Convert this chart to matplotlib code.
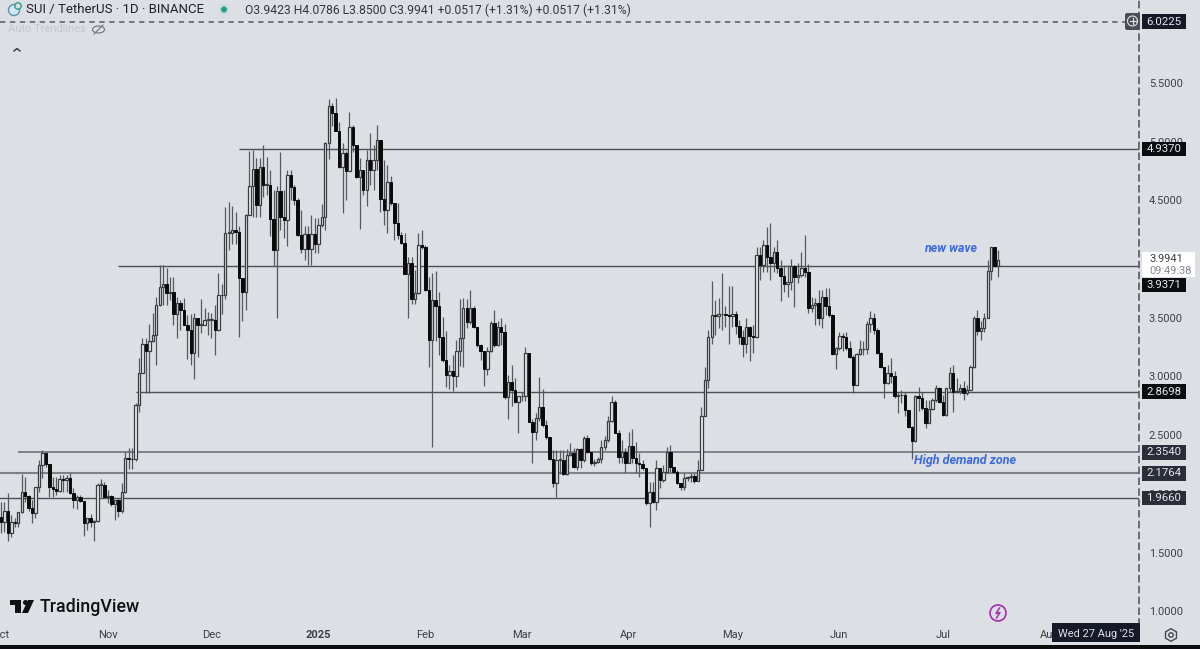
import matplotlib
matplotlib.use('Agg')
import matplotlib.pyplot as plt
import matplotlib.dates as mdates
import matplotlib.patches as mpatches
from matplotlib.transforms import blended_transform_factory
import numpy as np
import pandas as pd

plt.rcParams['font.family'] = ['Roboto', 'DejaVu Sans']

# daily candles, open of each day is the close before it
first_open = 1.80
closes = [
    1.764, 1.857, 1.664, 1.764, 1.755, 1.849, 2.019, 1.982, 1.877, 1.835,
    2.062, 2.246, 2.346, 2.252, 2.062, 2.040, 2.024, 2.124, 2.120, 2.133,
    2.011, 1.948, 1.975, 1.940, 1.755, 1.792, 1.764, 1.772, 2.076, 2.076,
    1.971, 1.982, 1.914, 1.948, 1.857, 2.019, 2.309, 2.300, 2.295, 2.757,
    3.033, 3.274, 3.217, 3.305, 3.353, 3.609, 3.765, 3.785, 3.708, 3.720,
    3.532, 3.630, 3.566, 3.440, 3.400, 3.197, 3.495, 3.440, 3.440, 3.480,
    3.480, 3.483, 3.396, 3.694, 3.690, 4.225, 4.225, 4.250, 4.230, 3.840,
    3.717, 4.375, 4.622, 4.764, 4.460, 4.787, 4.630, 4.630, 4.340, 4.077,
    4.583, 4.360, 4.330, 4.720, 4.610, 4.500, 4.205, 4.086, 4.213, 4.090,
    4.210, 4.125, 4.290, 4.355, 4.990, 5.300, 5.245, 5.090, 4.787, 4.900,
    4.753, 5.128, 4.970, 4.696, 4.760, 4.590, 4.840, 4.760, 4.840, 5.014,
    4.510, 4.420, 4.660, 4.475, 4.310, 4.205, 4.135, 3.873, 3.963, 3.657,
    3.710, 4.120, 4.100, 3.736, 3.311, 3.652, 3.600, 3.334, 3.140, 3.013,
    3.050, 3.000, 3.217, 3.330, 3.580, 3.467, 3.580, 3.424, 3.270, 3.220,
    3.067, 3.220, 3.453, 3.268, 3.420, 3.380, 2.828, 2.956, 2.885, 2.786,
    2.830, 2.830, 3.197, 2.615, 2.530, 2.644, 2.737, 2.587, 2.488, 2.294,
    2.090, 2.290, 2.290, 2.167, 2.330, 2.345, 2.232, 2.380, 2.290, 2.473,
    2.360, 2.260, 2.270, 2.295, 2.400, 2.460, 2.623, 2.786, 2.522, 2.317,
    2.354, 2.266, 2.410, 2.304, 2.266, 2.255, 2.218, 1.920, 2.020, 1.934,
    2.218, 2.120, 2.190, 2.360, 2.232, 2.190, 2.090, 2.057, 2.133, 2.140,
    2.150, 2.112, 2.204, 2.667, 2.970, 3.340, 3.524, 3.515, 3.530, 3.535,
    3.525, 3.516, 3.530, 3.430, 3.340, 3.280, 3.425, 3.345, 3.335, 4.035,
    3.950, 4.120, 4.020, 3.964, 4.060, 3.920, 3.856, 3.788, 3.808, 3.940,
    3.850, 3.862, 3.920, 3.893, 3.580, 3.605, 3.630, 3.500, 3.674, 3.600,
    3.524, 3.190, 3.240, 3.345, 3.340, 3.240, 3.170, 2.927, 3.190, 3.230,
    3.230, 3.450, 3.495, 3.395, 3.203, 3.078, 2.948, 3.026, 3.000, 2.834,
    2.840, 2.840, 2.715, 2.567, 2.453, 2.830, 2.820, 2.730, 2.600, 2.724,
    2.800, 2.900, 2.785, 2.672, 2.900, 3.027, 2.870, 2.880, 2.900, 2.860,
    2.885, 3.077, 3.495, 3.390, 3.410, 3.495, 3.900, 4.106, 3.940, 3.994,
]
highs = [
    1.934, 1.934, 2.011, 1.820, 1.792, 1.849, 2.170, 2.140, 1.991, 1.948,
    2.062, 2.290, 2.375, 2.360, 2.252, 2.147, 2.147, 2.161, 2.161, 2.161,
    2.175, 2.048, 1.991, 1.991, 1.940, 1.792, 1.830, 1.780, 2.090, 2.124,
    2.104, 2.030, 1.991, 1.948, 1.962, 2.090, 2.360, 2.388, 2.388, 2.770,
    3.155, 3.325, 3.325, 3.447, 3.540, 3.680, 3.950, 3.950, 3.920, 3.850,
    3.850, 3.680, 3.650, 3.670, 3.520, 3.530, 3.540, 3.500, 3.660, 3.580,
    3.550, 3.540, 3.610, 3.880, 3.790, 4.446, 4.490, 4.450, 4.400, 4.280,
    3.840, 4.380, 4.920, 4.930, 4.860, 4.860, 4.970, 4.870, 4.760, 4.590,
    4.620, 4.915, 4.590, 4.760, 4.760, 4.630, 4.520, 4.420, 4.280, 4.280,
    4.375, 4.350, 4.350, 4.470, 5.000, 5.360, 5.330, 5.370, 5.170, 4.985,
    4.920, 5.255, 5.140, 4.970, 4.860, 4.760, 4.930, 5.070, 4.970, 5.140,
    5.014, 4.840, 4.800, 4.710, 4.480, 4.480, 4.230, 4.220, 4.020, 4.020,
    3.910, 4.220, 4.250, 4.120, 3.850, 3.880, 3.900, 3.720, 3.510, 3.390,
    3.100, 3.180, 3.310, 3.660, 3.666, 3.660, 3.740, 3.600, 3.420, 3.280,
    3.220, 3.250, 3.470, 3.570, 3.470, 3.500, 3.450, 3.010, 3.100, 2.985,
    2.830, 2.870, 3.255, 3.197, 2.640, 2.690, 2.999, 2.890, 2.630, 2.488,
    2.370, 2.370, 2.370, 2.370, 2.380, 2.430, 2.390, 2.390, 2.390, 2.490,
    2.500, 2.360, 2.300, 2.310, 2.460, 2.490, 2.660, 2.835, 2.800, 2.540,
    2.460, 2.390, 2.530, 2.550, 2.445, 2.345, 2.290, 2.218, 2.100, 2.100,
    2.290, 2.220, 2.245, 2.400, 2.416, 2.232, 2.205, 2.090, 2.175, 2.150,
    2.175, 2.175, 2.290, 2.743, 3.080, 3.395, 3.816, 3.650, 3.670, 3.880,
    3.600, 3.770, 3.770, 3.560, 3.480, 3.400, 3.500, 3.430, 3.440, 4.100,
    4.100, 4.160, 4.276, 4.305, 4.106, 4.160, 3.990, 3.950, 3.950, 4.000,
    3.950, 3.970, 4.060, 4.205, 3.960, 3.680, 3.670, 3.735, 3.735, 3.750,
    3.750, 3.530, 3.250, 3.380, 3.370, 3.380, 3.300, 3.180, 3.200, 3.310,
    3.300, 3.470, 3.560, 3.540, 3.410, 3.210, 3.080, 3.100, 3.155, 3.050,
    2.870, 2.885, 2.870, 2.715, 2.580, 2.840, 2.910, 2.870, 2.800, 2.800,
    2.815, 2.930, 2.913, 2.840, 2.900, 3.080, 3.100, 2.985, 2.940, 2.960,
    2.930, 3.100, 3.515, 3.570, 3.470, 3.540, 3.990, 4.106, 4.100, 4.079,
]
lows = [
    1.664, 1.678, 1.602, 1.630, 1.721, 1.721, 1.840, 1.934, 1.857, 1.749,
    1.792, 2.019, 2.133, 2.230, 1.977, 1.977, 1.991, 2.019, 2.019, 2.019,
    2.000, 1.877, 1.869, 1.934, 1.644, 1.693, 1.721, 1.602, 1.764, 1.977,
    1.962, 1.920, 1.897, 1.778, 1.806, 1.840, 2.005, 2.209, 2.209, 2.280,
    2.700, 3.030, 2.857, 2.857, 3.290, 3.100, 3.600, 3.610, 3.610, 3.650,
    3.440, 3.330, 3.400, 3.440, 3.150, 3.100, 2.975, 3.170, 3.370, 3.440,
    3.350, 3.330, 3.180, 3.390, 3.530, 3.660, 4.080, 4.130, 4.130, 3.340,
    3.470, 3.570, 4.375, 4.360, 4.360, 4.360, 4.530, 4.550, 4.200, 3.940,
    3.495, 4.250, 4.180, 4.110, 4.500, 4.460, 4.200, 4.050, 3.990, 3.950,
    3.950, 4.050, 4.050, 4.270, 4.250, 4.850, 5.130, 5.090, 4.780, 4.390,
    4.500, 4.750, 4.915, 4.690, 4.260, 4.550, 4.450, 4.630, 4.590, 4.760,
    4.400, 4.290, 4.220, 4.460, 4.160, 4.170, 4.130, 3.870, 3.495, 3.620,
    3.620, 3.700, 4.090, 3.730, 3.078, 2.400, 3.300, 3.180, 3.126, 2.914,
    2.890, 2.880, 2.910, 3.090, 3.085, 3.410, 3.450, 3.410, 3.250, 3.140,
    2.920, 3.010, 3.210, 3.250, 3.260, 3.270, 2.805, 2.635, 2.745, 2.770,
    2.520, 2.790, 2.795, 2.610, 2.260, 2.460, 2.620, 2.570, 2.470, 2.290,
    2.060, 1.970, 2.170, 2.160, 2.160, 2.320, 2.218, 2.200, 2.220, 2.270,
    2.345, 2.245, 2.235, 2.260, 2.260, 2.370, 2.445, 2.615, 2.515, 2.260,
    2.260, 2.180, 2.260, 2.260, 2.180, 2.140, 2.200, 1.905, 1.720, 1.920,
    1.865, 2.050, 2.105, 2.180, 2.190, 2.180, 2.085, 2.033, 2.030, 2.110,
    2.105, 2.090, 2.110, 2.200, 2.660, 2.900, 3.280, 3.350, 3.410, 3.400,
    3.420, 3.280, 3.420, 3.360, 3.280, 3.170, 3.200, 3.130, 3.200, 3.330,
    3.820, 3.890, 3.890, 3.820, 3.890, 3.880, 3.645, 3.720, 3.680, 3.740,
    3.595, 3.800, 3.850, 3.850, 3.540, 3.550, 3.440, 3.440, 3.410, 3.520,
    3.510, 3.180, 3.060, 3.225, 3.220, 3.225, 3.155, 2.856, 2.930, 3.180,
    3.185, 3.190, 3.380, 3.360, 3.190, 3.070, 2.814, 2.940, 2.945, 2.815,
    2.690, 2.770, 2.660, 2.560, 2.300, 2.445, 2.710, 2.715, 2.560, 2.600,
    2.715, 2.785, 2.770, 2.660, 2.660, 2.870, 2.700, 2.870, 2.855, 2.800,
    2.840, 2.885, 3.070, 3.350, 3.310, 3.380, 3.495, 3.820, 3.930, 3.850,
]

# horizontal levels and the day each one starts on
levels = [4.9370, 3.9371, 2.8698, 2.3540, 2.1764, 1.9660]
level_starts = ['2024-12-09', '2024-11-04', '2024-11-09', '2024-10-06', '2024-09-20', '2024-09-20']
level_widths = [1.0, 1.0, 1.0, 1.4, 1.5, 1.0]
level_colors = ['#4c4f55', '#4c4f55', '#4c4f55', '#7d8188', '#7d8188', '#4c4f55']
level_tag_colors = ['#0b0c10', '#0b0c10', '#0b0c10', '#2a2e39', '#2a2e39', '#2a2e39']

price_ticks = [5.5, 5.0, 4.5, 4.0, 3.5, 3.0, 2.5, 2.0, 1.5, 1.0]
month_dates = ['2024-10-01', '2024-11-01', '2024-12-01', '2025-01-01', '2025-02-01',
               '2025-03-01', '2025-04-01', '2025-05-01', '2025-06-01', '2025-07-01', '2025-08-01']
month_labels = ['Oct', 'Nov', 'Dec', '2025', 'Feb', 'Mar', 'Apr', 'May', 'Jun', 'Jul', 'Aug']

BG = '#dcdfe4'
dates = pd.date_range('2024-10-01', periods=len(closes))
x = mdates.date2num(dates)
c = np.array(closes)
o = np.concatenate([[first_open], c[:-1]])
h = np.maximum(np.maximum(highs, o), c)
l = np.minimum(np.minimum(lows, o), c)
up = c >= o

fig = plt.figure(figsize=(12, 6.49), dpi=100, facecolor=BG)
ax = fig.add_axes([0, 1 - 625 / 649, 1139 / 1200, 625 / 649], facecolor=BG)
ax.set_xlim(x[0] - 0.29, x[0] + 329.86)
ax.set_ylim(0.883, 6.207)

# wicks, then bodies
ax.vlines(x, l, h, color='#55585e', lw=0.9, zorder=3)
ax.bar(x[up], np.maximum(c[up] - o[up], 0.006), bottom=o[up], width=0.68,
       facecolor='#eceef1', edgecolor='#3a3c40', lw=0.9, zorder=4)
ax.bar(x[~up], np.maximum(o[~up] - c[~up], 0.006), bottom=c[~up], width=0.72,
       facecolor='#0a0a0a', edgecolor='#0a0a0a', lw=0.7, zorder=4)

for price, start, lw, col in zip(levels, level_starts, level_widths, level_colors):
    ax.hlines(price, mdates.date2num(pd.Timestamp(start)), x[0] + 329.86,
              color=col, lw=lw, zorder=2)

ax.axhline(6.0225, color='#555a62', lw=1.1, dashes=(3.5, 3), zorder=1)

for side in ['top', 'left', 'bottom']:
    ax.spines[side].set_visible(False)
ax.spines['right'].set_color('#555a62')
ax.spines['right'].set_linewidth(1.2)
ax.spines['right'].set_linestyle((0, (3.5, 3)))

ax.set_yticks(price_ticks)
ax.set_yticklabels([f'{p:.4f}' for p in price_ticks], fontsize=7.9, color='#3c3f46')
ax.yaxis.tick_right()
ax.tick_params(axis='y', length=0, pad=7)
ax.set_xticks(mdates.date2num(pd.to_datetime(month_dates)))
ax.set_xticklabels(month_labels, fontsize=8, color='#3c3f46')
ax.get_xticklabels()[3].set_fontweight('bold')
ax.tick_params(axis='x', length=0, pad=3.5)

# everything outside the candles goes on a pixel layer
ov = fig.add_axes([0, 0, 1, 1], facecolor='none', zorder=5)
ov.set_xlim(0, 1200)
ov.set_ylim(649, 0)
ov.axis('off')
tag_tf = blended_transform_factory(ov.transData, ax.transData)
TAG_H = 0.125


def tag(price, text, color):
    ov.add_patch(mpatches.Rectangle((1142, price - TAG_H / 2), 44, TAG_H, transform=tag_tf,
                                    fc=color, ec='none', zorder=5))
    ov.text(1164, price, text, transform=tag_tf, ha='center', va='center', fontsize=8.2,
            color='#e8e9ec', zorder=6)


# the white countdown box pushes the 3.9371 tag down
ov.add_patch(mpatches.Rectangle((1142, 252), 53, 25, fc='white', ec='none', zorder=5))
ov.text(1149, 259.5, '3.9941', fontsize=7.9, color='#3c3f46', va='center', zorder=6)
ov.text(1149, 271, '09:49:38', fontsize=7.9, color='#83868d', va='center', zorder=6)
ov.add_patch(mpatches.Rectangle((1142, 278), 44, 14, fc='#0b0c10', ec='none', zorder=5))
ov.text(1164, 285, '3.9371', ha='center', va='center', fontsize=8.2, color='#e8e9ec', zorder=6)

tag(6.0225, '6.0225', '#161a28')
for price, color in zip(levels, level_tag_colors):
    if price != 3.9371:
        tag(price, f'{price:.4f}', color)

# plus button on the price line
ov.add_patch(mpatches.FancyBboxPatch((1125, 13), 15, 17, boxstyle='round,pad=0,rounding_size=2',
                                     fc='#4a4d53', ec='none', zorder=5))
ov.add_patch(mpatches.Circle((1132.5, 21), 5, fc='none', ec='#e4e5e8', lw=0.8, zorder=6))
ov.plot([1129.5, 1135.5], [21, 21], color='#e4e5e8', lw=0.8, zorder=6)
ov.plot([1132.5, 1132.5], [18, 24], color='#e4e5e8', lw=0.8, zorder=6)

# header
ov.add_patch(mpatches.Circle((14, 10), 5.5, fc='#d5e6ee', ec='#5b93aa', lw=1))
ov.add_patch(mpatches.Circle((18, 6), 3.2, fc=BG, ec='#2a9d8f', lw=1))
ov.text(26, 10, 'SUI / TetherUS · 1D · BINANCE', fontsize=9.5, color='#1f2128', va='center')
ov.add_patch(mpatches.Circle((224, 9.5), 5.5, fc='#c9dcdb', ec='none'))
ov.add_patch(mpatches.Circle((224, 9.5), 3, fc='#1fa08a', ec='none'))
ov.text(245, 10, 'O3.9423 H4.0786 L3.8500 C3.9941 +0.0517 (+1.31%) +0.0517 (+1.31%)',
        fontsize=8.75, color='#33363c', va='center')
ov.text(8, 29.5, 'Auto Trendlines', fontsize=8.0, color='#c3c6cc', va='center')
ov.add_patch(mpatches.Ellipse((98.5, 29.5), 12, 7, fc='none', ec='#70737a', lw=0.8))
ov.plot([94, 103], [34, 25], color='#70737a', lw=0.8)
ov.plot([14, 17, 20], [51, 48.5, 51], color='#33363c', lw=1)

# annotations on the chart
ov.text(924, 248.5, 'new wave', fontsize=8.9, color='#3c6ade', style='italic', weight='bold', va='center')
ov.text(914, 460.5, 'High demand zone', fontsize=9.0, color='#3c6ade', style='italic', weight='bold', va='center')

# TradingView logo
ov.add_patch(mpatches.Rectangle((10, 600), 11, 4.5, fc='#0f1014', ec='none'))
ov.add_patch(mpatches.Rectangle((15, 600), 6, 13, fc='#0f1014', ec='none'))
ov.add_patch(mpatches.Circle((25.5, 602.5), 2.5, fc='#0f1014', ec='none'))
ov.add_patch(mpatches.Polygon([[28, 600], [34, 600], [28, 613], [22, 613]], fc='#0f1014', ec='none'))
ov.text(40, 606.5, 'TradingView', fontsize=12.8, weight='medium', color='#0f1014', va='center')

# lightning button and settings
ov.add_patch(mpatches.Circle((998, 613), 8, fc='none', ec='#a030b0', lw=1.2))
ov.plot([999.5, 996, 1000, 996.5], [608, 613.5, 612.5, 618], color='#a030b0', lw=1.1)
ov.add_patch(mpatches.RegularPolygon((1171, 635), 6, radius=6.3, fc='none', ec='#44474e', lw=1))
ov.add_patch(mpatches.Circle((1171, 635), 2.2, fc='none', ec='#44474e', lw=1))

# crosshair date box covers the Aug label
ov.add_patch(mpatches.Rectangle((1052, 623), 88, 19, fc='#161a28', ec='none', zorder=5))
ov.text(1096, 634, "Wed 27 Aug '25", ha='center', va='center', fontsize=7.9, color='#e0e1e5', zorder=6)

# strip at the bottom edge of the screenshot
ov.add_patch(mpatches.Rectangle((0, 645), 1200, 4, fc='#0c0c0e', ec='none', zorder=7))

fig.savefig('out.png', dpi=100, facecolor=BG)
